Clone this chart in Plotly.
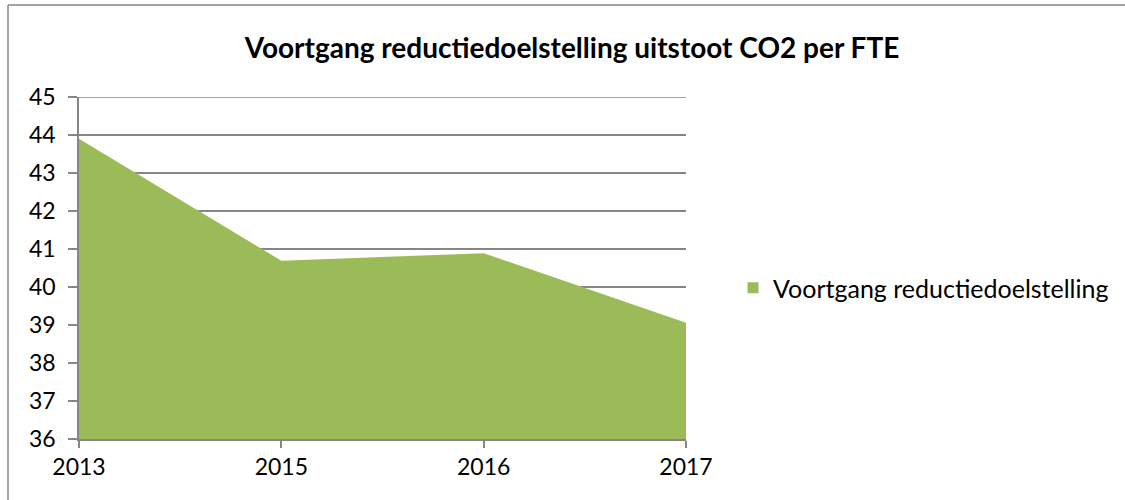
import plotly.graph_objects as go

years = ["2013", "2015", "2016", "2017"]
values = [43.9, 40.69, 40.89, 39.06]
series_name = "Voortgang reductiedoelstelling"
title = "Voortgang reductiedoelstelling uitstoot CO2 per FTE"

GREEN = "#9BBB59"
GRAY = "#868686"
FONT = "Lato"

fig = go.Figure()
fig.add_trace(go.Scatter(
    x=years, y=values, name=series_name, mode="lines",
    fill="tozeroy", fillcolor=GREEN, line=dict(color=GREEN, width=0),
    showlegend=False, hoverinfo="x+y",
))
# legend-only entry with a square swatch
fig.add_trace(go.Scatter(
    x=[None], y=[None], name=series_name, mode="markers",
    marker=dict(symbol="square", size=11, color=GREEN), showlegend=True,
))

L, R, T, B = 79, 1125 - 686, 97, 500 - 439
pw, ph = 686 - 79, 439 - 97

fig.update_layout(
    width=1125, height=500, autosize=False,
    margin=dict(l=L, r=R, t=T, b=B, autoexpand=False),
    paper_bgcolor="white", plot_bgcolor="white",
    title=dict(text="<b>" + title + "</b>", x=572 / 1125, xanchor="center",
               y=1 - 48 / 500, yanchor="middle",
               font=dict(family=FONT, size=28, color="black")),
    font=dict(family=FONT, size=23, color="black"),
    legend=dict(x=(733 - L) / pw, xanchor="left", y=(439 - 288) / ph, yanchor="middle",
                font=dict(family=FONT, size=25, color="black"),
                itemwidth=30, bgcolor="rgba(0,0,0,0)"),
    showlegend=True,
    xaxis=dict(type="category", range=[0, 3], showgrid=False,
               showline=True, linecolor=GRAY, linewidth=1.5,
               ticks="outside", ticklen=7, tickcolor=GRAY, tickwidth=1.5,
               tickfont=dict(family=FONT, size=23), zeroline=False),
    yaxis=dict(range=[36, 45], dtick=1, showgrid=True, gridcolor=GRAY, gridwidth=1.5,
               showline=True, linecolor=GRAY, linewidth=1.5,
               ticks="outside", ticklen=9, tickcolor=GRAY, tickwidth=1.5,
               ticklabelstandoff=8,
               tickfont=dict(family=FONT, size=23), zeroline=False),
    shapes=[
        dict(type="line", xref="paper", yref="y", x0=0, x1=1, y0=45, y1=45,
             line=dict(color=GRAY, width=1.5)),
        dict(type="line", xref="paper", yref="paper",
             x0=(8 - L) / pw, x1=(1125 - L) / pw, y0=(439 - 5) / ph, y1=(439 - 5) / ph,
             line=dict(color=GRAY, width=1.5)),
        dict(type="line", xref="paper", yref="paper",
             x0=(8 - L) / pw, x1=(8 - L) / pw, y0=(439 - 5) / ph, y1=(439 - 500) / ph,
             line=dict(color=GRAY, width=1.5)),
    ],
)

fig.write_html(
    "out.html",
    config={"displayModeBar": False, "responsive": False},
    post_script=(
        "document.documentElement.style.overflow='hidden';"
        "document.body.style.overflow='hidden';"
        "document.body.style.margin='0';"
    ),
)
